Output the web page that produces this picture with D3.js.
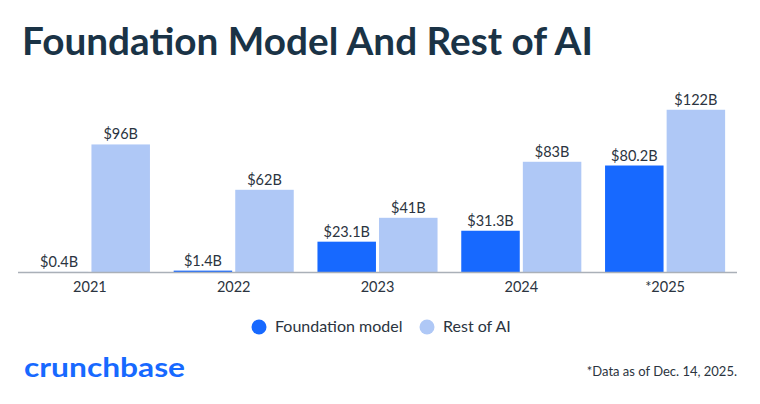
<!DOCTYPE html>
<html>
<head>
<meta charset="utf-8">
<script src="https://cdn.jsdelivr.net/npm/d3@7"></script>
<style>
  html, body { margin: 0; padding: 0; background: #fff; }
  svg { display: block; font-family: Lato, 'Noto Sans', sans-serif; }
</style>
</head>
<body>
<svg id="chart"></svg>
<script>
// Funding by year, $B
const years = ['2021', '2022', '2023', '2024', '*2025'];
const seriesKeys = ['foundation', 'rest'];
const seriesNames = ['Foundation model', 'Rest of AI'];
const foundationValues = [0.4, 1.4, 23.1, 31.3, 80.2];
const restValues = [96, 62, 41, 83, 122];
const valueLabels = {
  foundation: ['$0.4B', '$1.4B', '$23.1B', '$31.3B', '$80.2B'],
  rest: ['$96B', '$62B', '$41B', '$83B', '$122B']
};

const colors = { foundation: '#1769ff', rest: '#afc8f6' };
const textColor = '#2b3440';

const width = 760, height = 404;
const margin = { left: 18, right: 23, baseline: 272.5 };

const svg = d3.select('#chart')
  .attr('width', width)
  .attr('height', height)
  .attr('viewBox', `0 0 ${width} ${height}`);

const rows = years.map((y, i) => ({
  year: y,
  foundation: foundationValues[i],
  rest: restValues[i],
  i
}));

// Title
svg.append('text')
  .attr('x', 22)
  .attr('y', 55)
  .attr('font-size', '38px')
  .attr('font-weight', '700')
  .attr('fill', '#1a3346')
  .attr('textLength', 571)
  .attr('lengthAdjust', 'spacingAndGlyphs')
  .text('Foundation Model And Rest of AI');

const x0 = d3.scaleBand()
  .domain(years)
  .range([margin.left, width - margin.right])
  .paddingInner(0.165)
  .paddingOuter(0.0826);

const x1 = d3.scaleBand()
  .domain(seriesKeys)
  .range([0, x0.bandwidth()])
  .paddingInner(0.05);

const y = d3.scaleLinear()
  .domain([0, 125])
  .range([margin.baseline, margin.baseline - 125 * 1.334]);

const g = svg.append('g');

const groups = g.selectAll('g.year')
  .data(rows)
  .join('g')
  .attr('class', 'year')
  .attr('transform', d => `translate(${x0(d.year)},0)`);

groups.selectAll('rect')
  .data(d => seriesKeys.map(k => ({ key: k, value: d[k], i: d.i })))
  .join('rect')
  .attr('x', d => x1(d.key))
  .attr('y', d => y(d.value))
  .attr('width', x1.bandwidth())
  .attr('height', d => Math.max(0, y(0) - y(d.value)))
  .attr('fill', d => colors[d.key]);

groups.selectAll('text.val')
  .data(d => seriesKeys.map(k => ({ key: k, value: d[k], i: d.i })))
  .join('text')
  .attr('class', 'val')
  .attr('x', d => x1(d.key) + x1.bandwidth() / 2)
  .attr('y', d => y(d.value) - 5)
  .attr('text-anchor', 'middle')
  .attr('font-size', '14.5px')
  .attr('fill', textColor)
  .text(d => valueLabels[d.key][d.i]);

// X axis
const xAxis = g.append('g')
  .attr('transform', `translate(0, ${margin.baseline})`)
  .call(d3.axisBottom(x0).tickSize(0).tickPadding(9));

xAxis.select('.domain')
  .attr('stroke', '#aab0b8')
  .attr('stroke-width', 1.5)
  .attr('d', `M${margin.left},0H${width - margin.right}`);

xAxis.selectAll('text')
  .attr('font-size', '14.5px')
  .attr('font-family', 'Lato, "Noto Sans", sans-serif')
  .attr('fill', textColor);

// Legend
const legendX = [259, 427];
const legend = svg.append('g');
seriesKeys.forEach((k, i) => {
  legend.append('circle')
    .attr('cx', legendX[i])
    .attr('cy', 327)
    .attr('r', 7.5)
    .attr('fill', colors[k]);
  legend.append('text')
    .attr('x', legendX[i] + 16)
    .attr('y', 332)
    .attr('font-size', '16px')
    .attr('fill', textColor)
    .text(seriesNames[i]);
});

// Logo
svg.append('text')
  .attr('x', 24)
  .attr('y', 377)
  .attr('font-size', '26px')
  .attr('font-weight', '700')
  .attr('fill', '#1769ff')
  .attr('textLength', 161)
  .attr('lengthAdjust', 'spacingAndGlyphs')
  .text('crunchbase');

// Footnote
svg.append('text')
  .attr('x', 737)
  .attr('y', 376)
  .attr('text-anchor', 'end')
  .attr('font-size', '13px')
  .attr('fill', textColor)
  .text('*Data as of Dec. 14, 2025.');
</script>
</body>
</html>
